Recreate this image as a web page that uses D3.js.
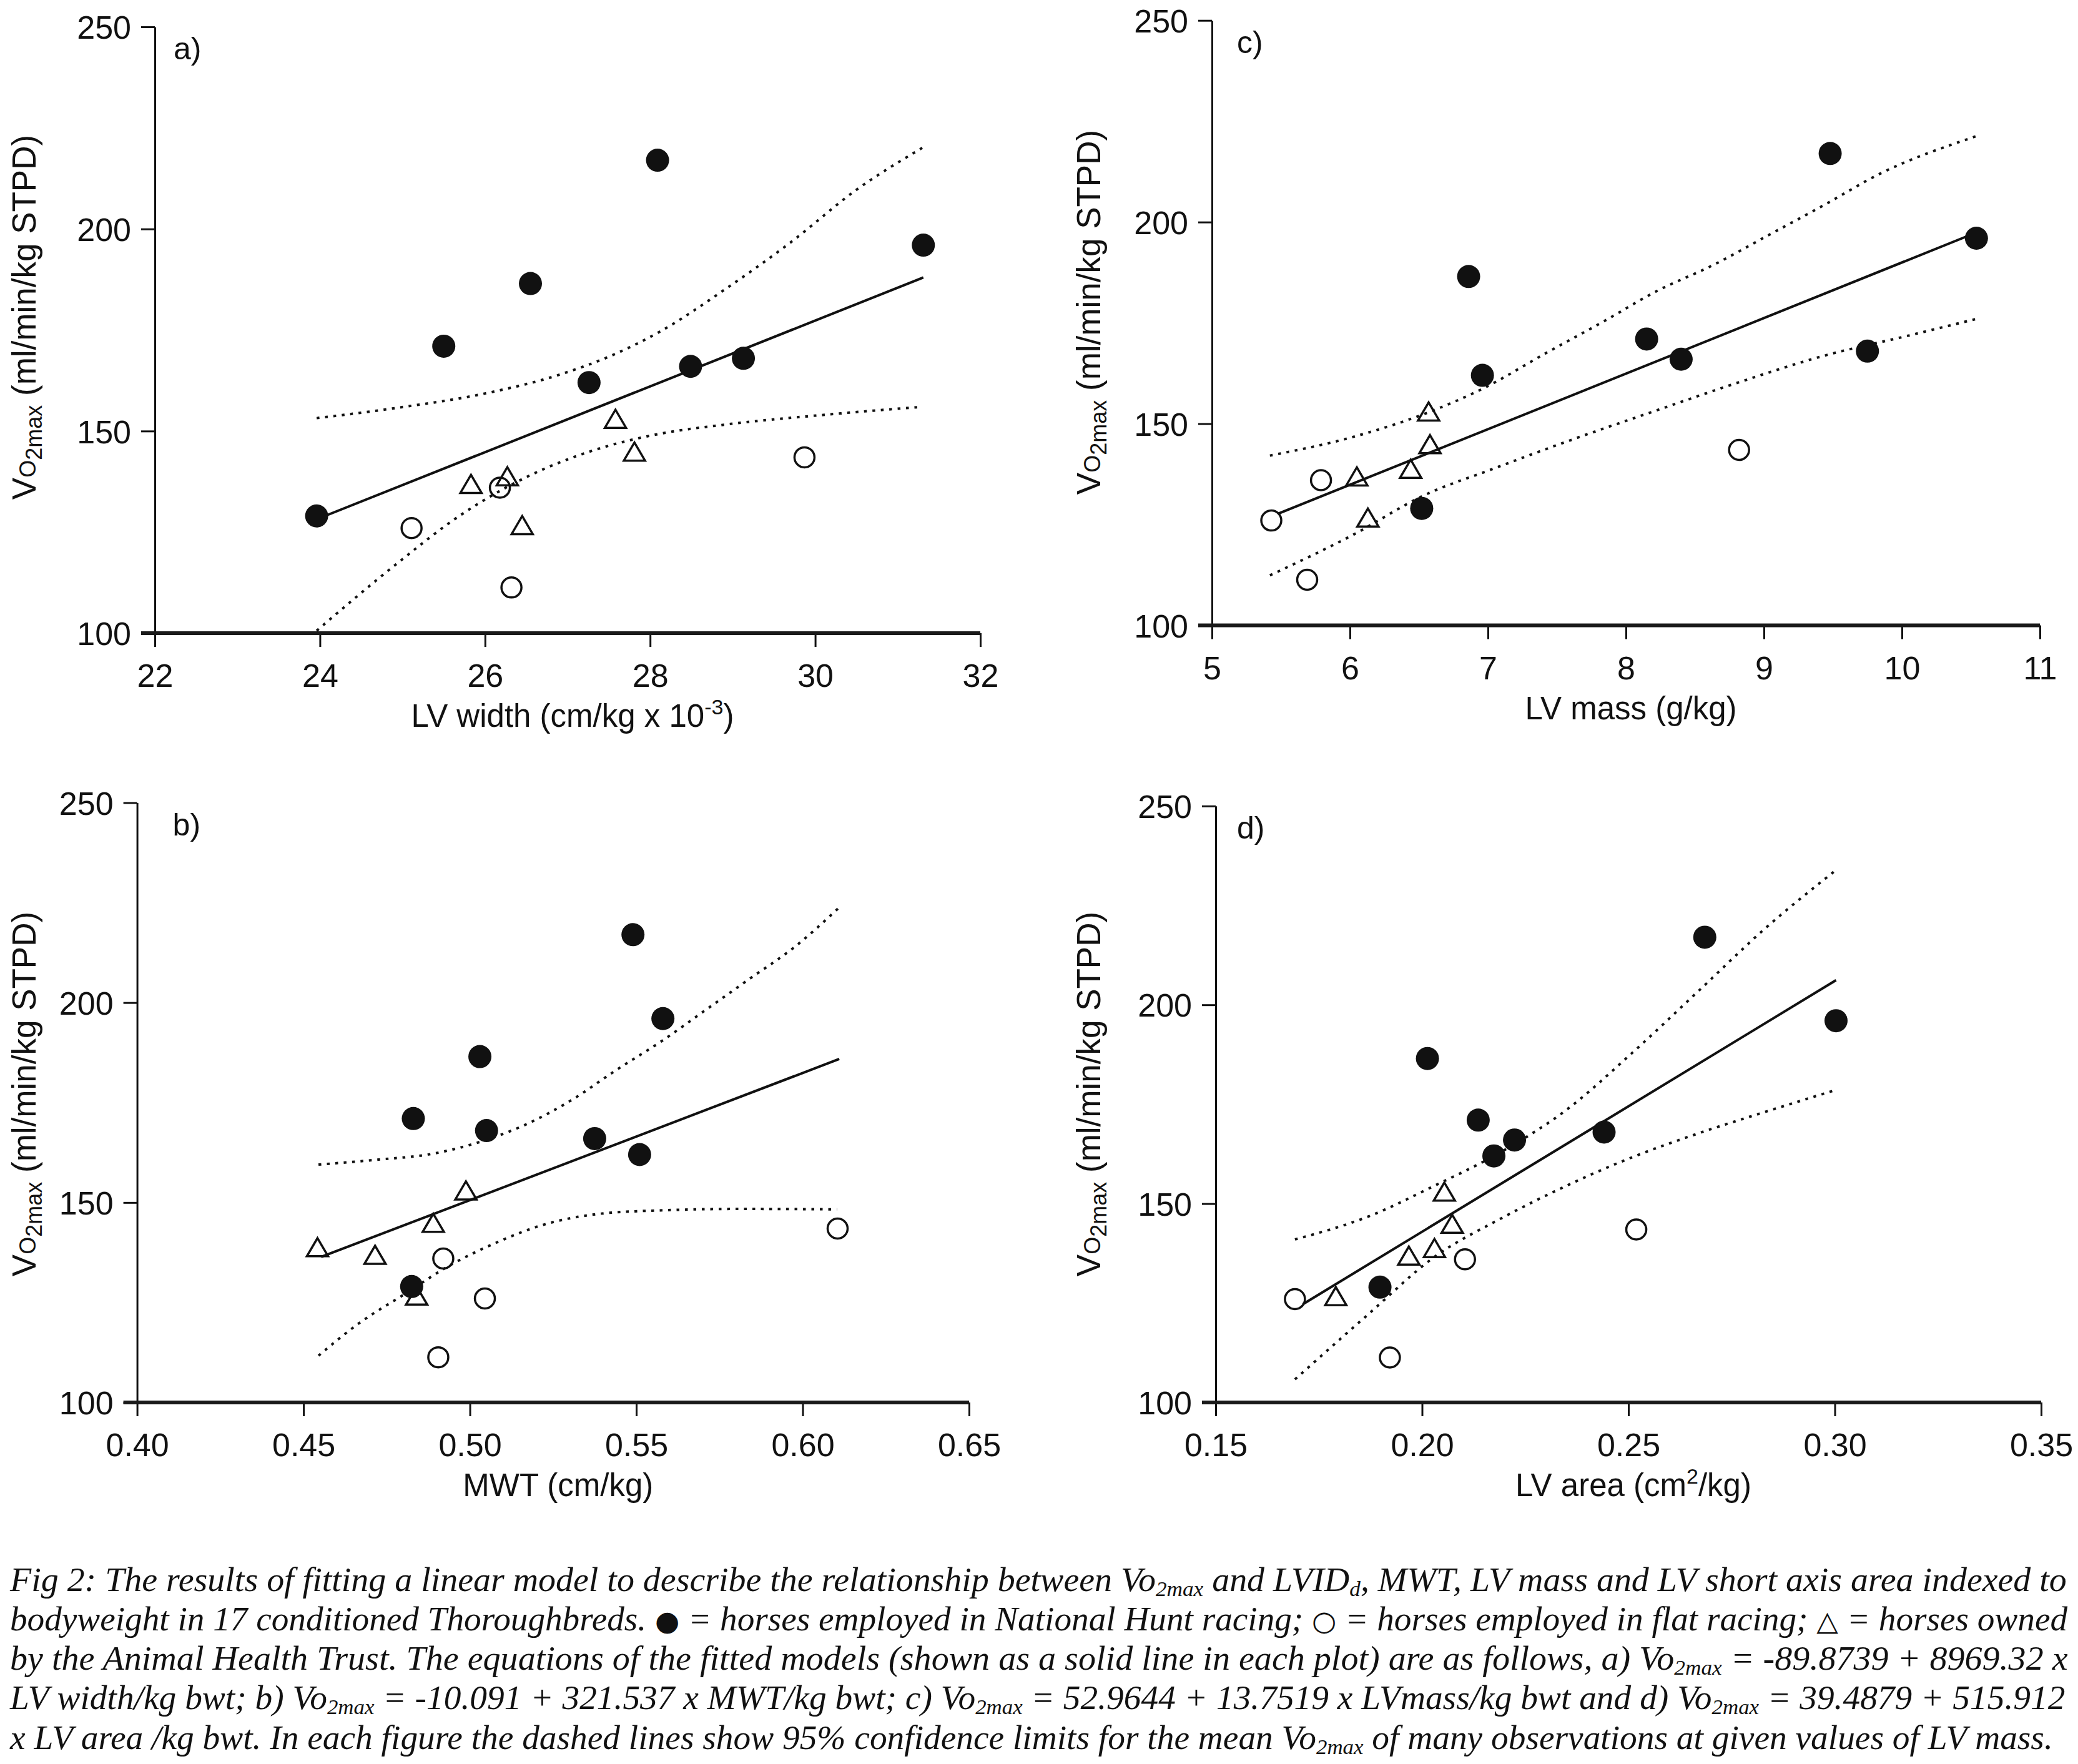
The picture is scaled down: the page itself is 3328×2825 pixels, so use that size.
<!DOCTYPE html>
<html><head><meta charset="utf-8">
<script src="https://cdn.jsdelivr.net/npm/d3@7"></script>
<style>html,body{margin:0;padding:0;background:#fff;} svg{display:block}</style>
</head><body>
<svg id="chart" width="3328" height="2825"></svg>
<script>
// ---------------- DATA ----------------
// VO2max of the 17 horses, by group (same horse order in every panel)
const vo2Hunt = [217, 196, 186.5, 171, 168, 166, 162, 129];
const vo2Flat = [143.5, 136, 126, 111.3];
const vo2AHT  = [152.8, 144.7, 138.6, 136.7, 126.5];

// a) LV width (cm/kg x 10^-3)
const widthHunt = [28.09, 31.31, 26.55, 25.50, 29.13, 28.49, 27.26, 23.96];
const widthFlat = [29.87, 26.18, 25.11, 26.32];
const widthAHT  = [27.58, 27.81, 26.27, 25.83, 26.45];
// b) MWT (cm/kg)
const mwtHunt = [0.549, 0.558, 0.503, 0.483, 0.505, 0.5375, 0.551, 0.4825];
const mwtFlat = [0.6105, 0.492, 0.5045, 0.4905];
const mwtAHT  = [0.4988, 0.489, 0.4542, 0.4715, 0.484];
// c) LV mass (g/kg)
const massHunt = [9.48, 10.54, 6.86, 8.15, 9.75, 8.40, 6.96, 6.52];
const massFlat = [8.82, 5.79, 5.43, 5.69];
const massAHT  = [6.57, 6.58, 6.44, 6.05, 6.13];
// d) LV area (cm2/kg)
const areaHunt = [0.2685, 0.3003, 0.2013, 0.2136, 0.2441, 0.2224, 0.2174, 0.1898];
const areaFlat = [0.2519, 0.2104, 0.1692, 0.1922];
const areaAHT  = [0.2054, 0.2073, 0.2030, 0.1968, 0.1791];

// fitted lines (end points as drawn)
const fitWidth = [[24.0, 128.5], [31.31, 188.0]];
const fitMWT   = [[0.4553, 136.4], [0.611, 185.9]];
const fitMass  = [[5.48, 127.7], [10.51, 197.0]];
const fitArea  = [[0.1711, 124.7], [0.3003, 206.2]];

// 95% confidence limits
const widthUpper = [[23.96,153.2],[24.92,155.7],[26.0,159.3],[26.91,164],[27.59,169.2],[28.11,174.5],[28.91,185.1],[29.71,196.8],[30.5,209.7],[31.3,220.1]];
const widthLower = [[23.96,100.6],[24.92,117],[25.71,129.3],[26.51,138.7],[27.31,145.2],[28.11,149.3],[28.91,151.6],[30.1,154],[31.3,156]];
const mwtUpper = [[0.4545,159.5],[0.472,160.7],[0.4888,162.2],[0.5039,165.4],[0.5173,169.7],[0.5307,175.7],[0.5441,183.2],[0.5575,190.3],[0.5709,198.2],[0.5843,206.1],[0.5977,214.0],[0.6111,223.9]];
const mwtLower = [[0.4545,111.7],[0.467,120.0],[0.4804,127.1],[0.4938,134.2],[0.5072,139.7],[0.5223,144.5],[0.5391,147.2],[0.5558,148.0],[0.581,148.4],[0.6103,148.3]];
const massUpper = [[5.42,142.1],[6.02,146.7],[6.56,152.7],[6.98,159.0],[7.42,167.5],[7.83,175.2],[8.23,183.0],[8.63,189.3],[9.03,196.7],[9.43,204.1],[9.83,211.8],[10.54,221.3]];
const massLower = [[5.42,112.4],[6.02,122.4],[6.54,132.3],[7.02,138.6],[7.63,146.3],[8.23,153.4],[8.83,160.4],[9.43,166.8],[10.03,171.7],[10.53,175.9]];
const areaUpper = [[0.1692,141.0],[0.1871,146.8],[0.203,154.5],[0.219,162.9],[0.235,173.6],[0.251,188],[0.267,203.5],[0.2829,219],[0.3003,233.9]];
const areaLower = [[0.1692,105.8],[0.1871,122.3],[0.203,136.6],[0.219,146.2],[0.235,154.5],[0.251,161.7],[0.267,167.7],[0.2829,173],[0.3003,178.6]];

// ticks
const yTicks = [100, 150, 200, 250];
const widthTicks = [22, 24, 26, 28, 30, 32];
const mwtTicks = [0.40, 0.45, 0.50, 0.55, 0.60, 0.65];
const massTicks = [5, 6, 7, 8, 9, 10, 11];
const areaTicks = [0.15, 0.20, 0.25, 0.30, 0.35];

// ---------------- LAYOUT ----------------
const INK = "#111";
const SANS = "'Liberation Sans', Arial, Helvetica, sans-serif";
const SERIF = "'Liberation Serif', 'Times New Roman', serif";

const panels = [
  {label:"a)", xd:[22,32], ticks:widthTicks, fmt:d3.format("d"), xr:[248,1570], yr:[1014,43], labDx:30,
   ylabX:57, ylabY:508, title:[["LV width (cm/kg x 10",""],["-3","sup"],[")",""]],
   hunt:widthHunt, flat:widthFlat, aht:widthAHT, fit:fitWidth, up:widthUpper, lo:widthLower},
  {label:"c)", xd:[5,11], ticks:massTicks, fmt:d3.format("d"), xr:[1941,3267], yr:[1001.5,32.7], labDx:40,
   ylabX:1762, ylabY:500, title:[["LV mass (g/kg)",""]],
   hunt:massHunt, flat:massFlat, aht:massAHT, fit:fitMass, up:massUpper, lo:massLower},
  {label:"b)", xd:[0.40,0.65], ticks:mwtTicks, fmt:d3.format(".2f"), xr:[219.6,1552], yr:[2246,1285.5], labDx:57,
   ylabX:57, ylabY:1752, title:[["MWT (cm/kg)",""]],
   hunt:mwtHunt, flat:mwtFlat, aht:mwtAHT, fit:fitMWT, up:mwtUpper, lo:mwtLower},
  {label:"d)", xd:[0.15,0.35], ticks:areaTicks, fmt:d3.format(".2f"), xr:[1947,3269], yr:[2246,1290.8], labDx:34,
   ylabX:1762, ylabY:1752, title:[["LV area (cm",""],["2","sup"],["/kg)",""]],
   hunt:areaHunt, flat:areaFlat, aht:areaAHT, fit:fitArea, up:areaUpper, lo:areaLower}
];

const svg = d3.select("#chart");
svg.append("rect").attr("width",3328).attr("height",2825).attr("fill","#fff");

panels.forEach(p => {
  const x = d3.scaleLinear().domain(p.xd).range(p.xr);
  const y = d3.scaleLinear().domain([100,250]).range(p.yr);
  const g = svg.append("g");

  // y axis
  const ya = g.append("g").attr("transform",`translate(${p.xr[0]},0)`)
    .call(d3.axisLeft(y).tickValues(yTicks).tickSize(22).tickSizeOuter(0).tickFormat(d3.format("d")));
  ya.select(".domain").attr("stroke",INK).attr("stroke-width",3);
  ya.selectAll(".tick line").attr("stroke",INK).attr("stroke-width",3);
  ya.selectAll(".tick text").attr("x",-38).attr("dy","0.36em")
    .attr("font-family",SANS).attr("font-size",52).attr("fill",INK);

  // x axis
  const xa = g.append("g").attr("transform",`translate(0,${p.yr[0]})`)
    .call(d3.axisBottom(x).tickValues(p.ticks).tickSize(22).tickSizeOuter(0).tickFormat(p.fmt));
  xa.select(".domain").remove();
  xa.selectAll(".tick line").attr("stroke",INK).attr("stroke-width",3);
  xa.selectAll(".tick text").attr("y",86).attr("dy",0)
    .attr("font-family",SANS).attr("font-size",52).attr("fill",INK);
  g.append("line").attr("x1",p.xr[0]-22).attr("x2",p.xr[1])
    .attr("y1",y(100)).attr("y2",y(100)).attr("stroke","#1a1a1a").attr("stroke-width",6);

  // x title
  const xt = g.append("text").attr("x",(p.xr[0]+p.xr[1])/2+8).attr("y",p.yr[0]+150)
    .attr("text-anchor","middle").attr("font-family",SANS).attr("font-size",51).attr("fill",INK);
  let up = false;
  p.title.forEach(([t,k]) => {
    const s = xt.append("tspan").text(t);
    if (k==="sup") { s.attr("font-size",34).attr("dy",-20); up = true; }
    else if (up) { s.attr("dy",20); up = false; }
  });

  // y title
  const yt = g.append("text").attr("transform",`translate(${p.ylabX},${p.ylabY}) rotate(-90)`)
    .attr("text-anchor","middle").attr("font-family",SANS).attr("font-size",53).attr("fill",INK);
  yt.append("tspan").text("V");
  yt.append("tspan").attr("font-size",36).text("O");
  yt.append("tspan").attr("font-size",36).attr("dy",10).text("2max");
  yt.append("tspan").attr("dy",-10).text(" (ml/min/kg STPD)");

  // panel label
  g.append("text").attr("x",p.xr[0]+p.labDx).attr("y",y(250)+52)
    .attr("font-family",SANS).attr("font-size",50).attr("fill",INK).text(p.label);

  // confidence limits
  const line = d3.line().x(d=>x(d[0])).y(d=>y(d[1])).curve(d3.curveMonotoneX);
  [p.up, p.lo].forEach(band => {
    g.append("path").attr("d",line(band)).attr("fill","none").attr("stroke",INK)
      .attr("stroke-width",4).attr("stroke-dasharray","4.5,9");
  });
  // fitted line
  g.append("path").attr("d",d3.line().x(d=>x(d[0])).y(d=>y(d[1]))(p.fit))
    .attr("fill","none").attr("stroke",INK).attr("stroke-width",4);

  // points
  g.selectAll(".flat").data(p.flat.map((v,i)=>[v,vo2Flat[i]])).join("circle")
    .attr("cx",d=>x(d[0])).attr("cy",d=>y(d[1])).attr("r",16)
    .attr("fill","none").attr("stroke",INK).attr("stroke-width",3.5);
  g.selectAll(".aht").data(p.aht.map((v,i)=>[v,vo2AHT[i]])).join("path")
    .attr("transform",d=>`translate(${x(d[0])},${y(d[1])})`)
    .attr("d","M0,-16L17,13L-17,13Z")
    .attr("fill","none").attr("stroke",INK).attr("stroke-width",3.5).attr("stroke-linejoin","miter");
  g.selectAll(".hunt").data(p.hunt.map((v,i)=>[v,vo2Hunt[i]])).join("circle")
    .attr("cx",d=>x(d[0])).attr("cy",d=>y(d[1])).attr("r",18.5).attr("fill",INK);
});

// ---------------- CAPTION ----------------
const captionLines = [
  [["Fig 2: The results of fitting a linear model to describe the relationship between Vo"],["2max","sub"],[" and LVID"],["d","sub"],[", MWT, LV mass and LV short axis area indexed to"]],
  [["bodyweight in 17 conditioned Thoroughbreds. "],["\u25CF","sym"],[" = horses employed in National Hunt racing; "],["\u25CB","sym"],[" = horses employed in flat racing; "],["\u25B3","sym"],[" = horses owned"]],
  [["by the Animal Health Trust. The equations of the fitted models (shown as a solid line in each plot) are as follows, a) Vo"],["2max","sub"],[" = -89.8739 + 8969.32 x"]],
  [["LV width/kg bwt; b) Vo"],["2max","sub"],[" = -10.091 + 321.537 x MWT/kg bwt; c) Vo"],["2max","sub"],[" = 52.9644 + 13.7519 x LVmass/kg bwt and d) Vo"],["2max","sub"],[" = 39.4879 + 515.912"]],
  [["x LV area /kg bwt. In each figure the dashed lines show 95% confidence limits for the mean Vo"],["2max","sub"],[" of many observations at given values of LV mass."]]
];
const capBase = [2548, 2611, 2674, 2737, 2801];
const capLen = [3294, 3296, 3296, 3292, 3272];
captionLines.forEach((segs, i) => {
  const cg = svg.append("g");
  const t = cg.append("text").attr("x",0).attr("y",0)
    .attr("font-family",SERIF).attr("font-style","italic").attr("font-size",54).attr("fill",INK);
  let shifted = false;
  segs.forEach(([s,k]) => {
    const ts = t.append("tspan").text(s);
    if (k==="sub") { ts.attr("font-size",34).attr("dy",8); shifted = true; }
    else {
      if (shifted) { ts.attr("dy",-8); shifted = false; }
      if (k==="sym") ts.attr("font-style","normal").attr("font-family","'DejaVu Sans', sans-serif").attr("font-size",44);
    }
  });
  const w = t.node().getComputedTextLength();
  const sx = capLen[i] / w;
  cg.attr("transform",`translate(16,${capBase[i]}) scale(${sx},1)`);
});
</script>
</body></html>
